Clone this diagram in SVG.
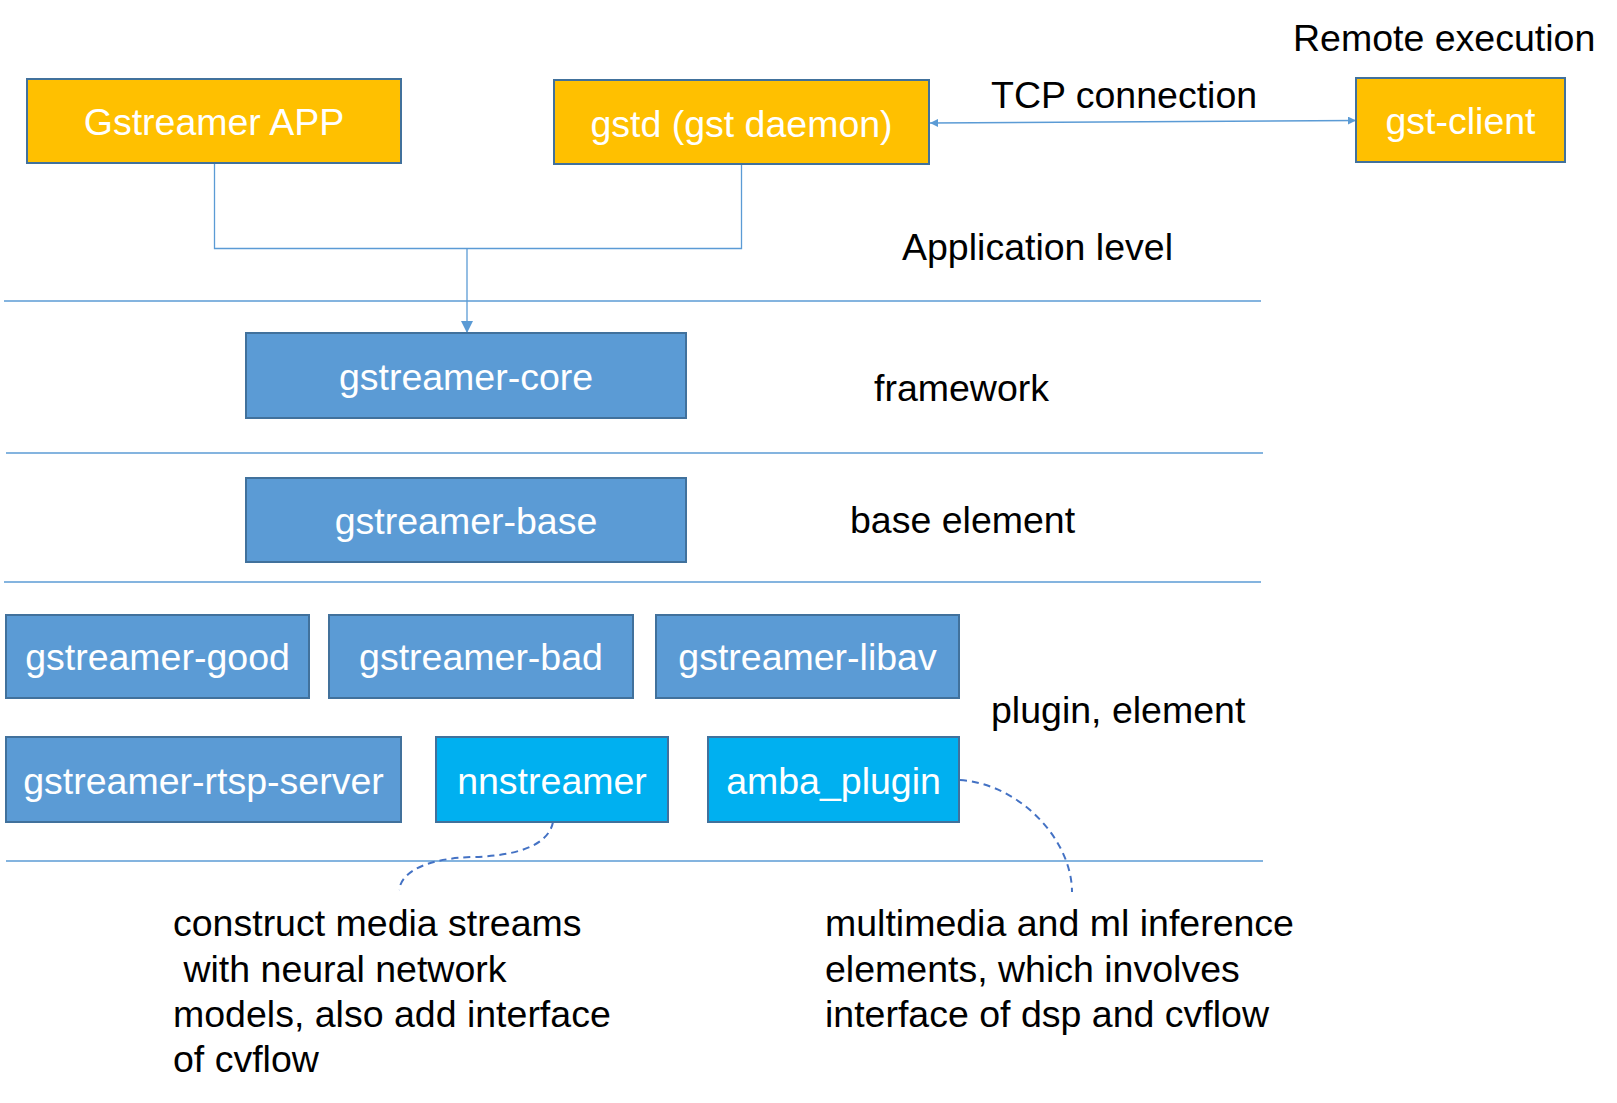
<svg xmlns="http://www.w3.org/2000/svg" width="1617" height="1103" viewBox="0 0 1617 1103">
<style>
text{font-family:"Liberation Sans",Arial,sans-serif;font-size:37.5px}
.lbl{fill:#000}
.w{fill:#fff;text-anchor:middle}
.y{fill:#FFC000;stroke:#41719C;stroke-width:2}
.b{fill:#5B9BD5;stroke:#41719C;stroke-width:2}
.c{fill:#00B0F0;stroke:#41719C;stroke-width:2}
.sep{stroke:#5B9BD5;stroke-width:1.3;fill:none}
.con{stroke:#5B9BD5;stroke-width:1.3;fill:none}
.dash{stroke:#4472C4;stroke-width:2;fill:none;stroke-dasharray:7 5}
</style>
<defs>
<marker id="ah" viewBox="0 0 10 10" refX="10" refY="5" markerWidth="8" markerHeight="8" orient="auto-start-reverse" markerUnits="userSpaceOnUse">
<path d="M0,0 L10,5 L0,10 z" fill="#5B9BD5"/>
</marker>
<marker id="ah2" viewBox="0 0 10 10" refX="10" refY="5" markerWidth="12" markerHeight="12" orient="auto-start-reverse" markerUnits="userSpaceOnUse">
<path d="M0,0 L10,5 L0,10 z" fill="#5B9BD5"/>
</marker>
</defs>
<rect width="1617" height="1103" fill="#fff"/>
<g id="separators">
<line class="sep" x1="4" y1="301" x2="1261" y2="301"/>
<line class="sep" x1="6" y1="453" x2="1263" y2="453"/>
<line class="sep" x1="4" y1="582" x2="1261" y2="582"/>
<line class="sep" x1="6" y1="861" x2="1263" y2="861"/>
</g>
<g id="connectors">
<polyline class="con" points="214.5,163 214.5,248.5 741.5,248.5 741.5,164"/>
<line class="con" x1="467" y1="248.5" x2="467" y2="333" marker-end="url(#ah2)"/>
<line class="con" x1="930" y1="123" x2="1356" y2="120.5" marker-start="url(#ah)" marker-end="url(#ah)"/>
<path class="dash" d="M553,822 C548,848 510,856 474,857 C430,858 402,870 399,890"/>
<path class="dash" d="M960,780 C1020,784 1072,840 1072,892"/>
</g>
<g id="gstreamer-app"><rect class="y" x="27" y="79" width="374" height="84"/><text class="w" x="214" y="135">Gstreamer APP</text></g>
<g id="gstd"><rect class="y" x="554" y="80" width="375" height="84"/><text class="w" x="741.5" y="137">gstd (gst daemon)</text></g>
<g id="gst-client"><rect class="y" x="1356" y="78" width="209" height="84"/><text class="w" x="1460.5" y="134">gst-client</text></g>
<g id="gstreamer-core"><rect class="b" x="246" y="333" width="440" height="85"/><text class="w" x="466" y="390">gstreamer-core</text></g>
<g id="gstreamer-base"><rect class="b" x="246" y="478" width="440" height="84"/><text class="w" x="466" y="534">gstreamer-base</text></g>
<g id="gstreamer-good"><rect class="b" x="6" y="615" width="303" height="83"/><text class="w" x="157.5" y="670">gstreamer-good</text></g>
<g id="gstreamer-bad"><rect class="b" x="329" y="615" width="304" height="83"/><text class="w" x="481" y="670">gstreamer-bad</text></g>
<g id="gstreamer-libav"><rect class="b" x="656" y="615" width="303" height="83"/><text class="w" x="807.5" y="670">gstreamer-libav</text></g>
<g id="gstreamer-rtsp-server"><rect class="b" x="6" y="737" width="395" height="85"/><text class="w" x="203.5" y="794">gstreamer-rtsp-server</text></g>
<g id="nnstreamer"><rect class="c" x="436" y="737" width="232" height="85"/><text class="w" x="552" y="794">nnstreamer</text></g>
<g id="amba_plugin"><rect class="c" x="708" y="737" width="251" height="85"/><text class="w" x="833.5" y="794">amba_plugin</text></g>
<g id="labels">
<text class="lbl" x="1293" y="51">Remote execution</text>
<text class="lbl" x="991" y="108">TCP connection</text>
<text class="lbl" x="902" y="260">Application level</text>
<text class="lbl" x="874" y="401">framework</text>
<text class="lbl" x="850" y="533">base element</text>
<text class="lbl" x="991" y="723">plugin, element</text>
<text class="lbl" x="173" y="936">construct media streams</text>
<text class="lbl" x="173" y="982" xml:space="preserve"> with neural network</text>
<text class="lbl" x="173" y="1027">models, also add interface</text>
<text class="lbl" x="173" y="1072">of cvflow</text>
<text class="lbl" x="825" y="936">multimedia and ml inference</text>
<text class="lbl" x="825" y="982">elements, which involves</text>
<text class="lbl" x="825" y="1027">interface of dsp and cvflow</text>
</g>
</svg>
